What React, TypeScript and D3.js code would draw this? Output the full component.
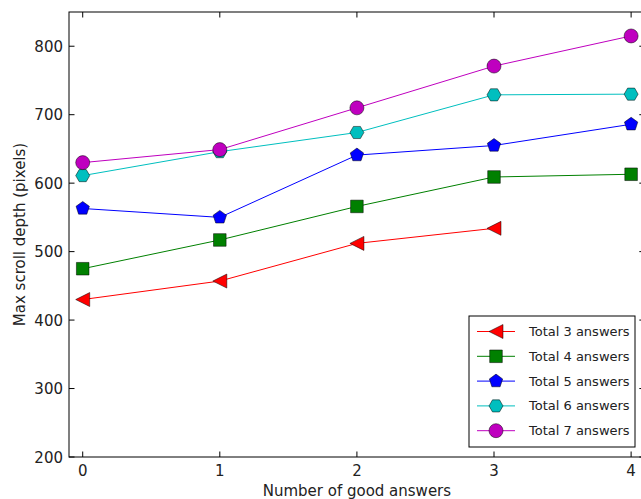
import * as d3 from "d3";

const xTicks = [0, 1, 2, 3, 4];
const yTicks = [200, 300, 400, 500, 600, 700, 800];

const seriesNames = ["Total 3 answers", "Total 4 answers", "Total 5 answers", "Total 6 answers", "Total 7 answers"];
const total3 = [430, 457, 512, 534];
const total4 = [475, 517, 566, 609, 613];
const total5 = [563, 550, 641, 655, 686];
const total6 = [611, 646, 674, 729, 730];
const total7 = [630, 649, 710, 771, 815];

const colors = ["#ff0000", "#008000", "#0000ff", "#00bfbf", "#bf00bf"];
const markers = ["triLeft", "square", "pentagon", "hexagon", "circle"];

const width = 641;
const height = 499;
const left = 69;
const top = 12;
const bottom = 457;

const x = d3.scaleLinear([-0.1, 4.1], [left, left + 137.1 * 4.2]);
const y = d3.scaleLinear([200, 850], [bottom, top]);

function poly(n: number, r: number, rot: number) {
  const pts: string[] = [];
  for (let i = 0; i < n; i++) {
    const a = rot + (i * 2 * Math.PI) / n;
    pts.push(`${(r * Math.sin(a)).toFixed(2)},${(-r * Math.cos(a)).toFixed(2)}`);
  }
  return "M" + pts.join("L") + "Z";
}

function markerPath(kind: string) {
  const r = 7;
  if (kind === "triLeft") return `M${-r},0L${r},${-r}L${r},${r}Z`;
  if (kind === "square") return `M-6.3,-6.3H6.3V6.3H-6.3Z`;
  if (kind === "pentagon") return poly(5, r, 0);
  if (kind === "hexagon") return poly(6, r, Math.PI / 6);
  return null;
}

function Marker({ kind, cx, cy, color }: { kind: string; cx: number; cy: number; color: string }) {
  if (kind === "circle")
    return <circle cx={cx} cy={cy} r={7} fill={color} stroke="#000" strokeWidth={0.5} />;
  return <path d={markerPath(kind)!} transform={`translate(${cx},${cy})`} fill={color} stroke="#000" strokeWidth={0.5} />;
}

export default function App() {
  const all = [total3, total4, total5, total6, total7];
  const line = d3.line<number>((d, i) => x(i), (d) => y(d));
  const font = "'DejaVu Sans', sans-serif";
  const right = x(4.1);

  const legX = 469, legY = 316, legW = 166, legH = 131;
  return (
    <svg width={width} height={height} style={{ position: "absolute", left: 0, top: 0 }} fontFamily={font}>
      <rect width={width} height={height} fill="#fff" />
      {all.map((vals, s) => (
        <g key={s}>
          <path d={line(vals)!} fill="none" stroke={colors[s]} strokeWidth={1} />
          {vals.map((v, i) => (
            <Marker key={i} kind={markers[s]} cx={x(i)} cy={y(v)} color={colors[s]} />
          ))}
        </g>
      ))}
      <rect x={left} y={top} width={right - left} height={bottom - top} fill="none" stroke="#000" strokeWidth={1} />
      {xTicks.map((t) => (
        <g key={t}>
          <line x1={x(t)} x2={x(t)} y1={bottom} y2={bottom - 5.5} stroke="#000" />
          <line x1={x(t)} x2={x(t)} y1={top} y2={top + 5.5} stroke="#000" />
          <text x={x(t)} y={476} fontSize={15} textAnchor="middle" fill="#222">{t}</text>
        </g>
      ))}
      {yTicks.map((t) => (
        <g key={t}>
          <line x1={left} x2={left + 5.5} y1={y(t)} y2={y(t)} stroke="#000" />
          <line x1={right} x2={right - 5.5} y1={y(t)} y2={y(t)} stroke="#000" />
          <text x={63} y={y(t) + 5.5} fontSize={15} textAnchor="end" fill="#222">{t}</text>
        </g>
      ))}
      <text x={x(2)} y={496} fontSize={15} textAnchor="middle" fill="#222">Number of good answers</text>
      <text transform={`translate(25,${(top + bottom) / 2}) rotate(-90)`} fontSize={15} textAnchor="middle" fill="#222">Max scroll depth (pixels)</text>
      <rect x={legX} y={legY} width={legW} height={legH} fill="#fff" stroke="#000" strokeWidth={1} />
      {seriesNames.map((name, s) => {
        const ly = 331.5 + s * 24.8;
        return (
          <g key={name}>
            <line x1={477} x2={515} y1={ly} y2={ly} stroke={colors[s]} strokeWidth={1} />
            <Marker kind={markers[s]} cx={496} cy={ly} color={colors[s]} />
            <text x={529} y={ly + 4.5} fontSize={13} fill="#222">{name}</text>
          </g>
        );
      })}
    </svg>
  );
}
